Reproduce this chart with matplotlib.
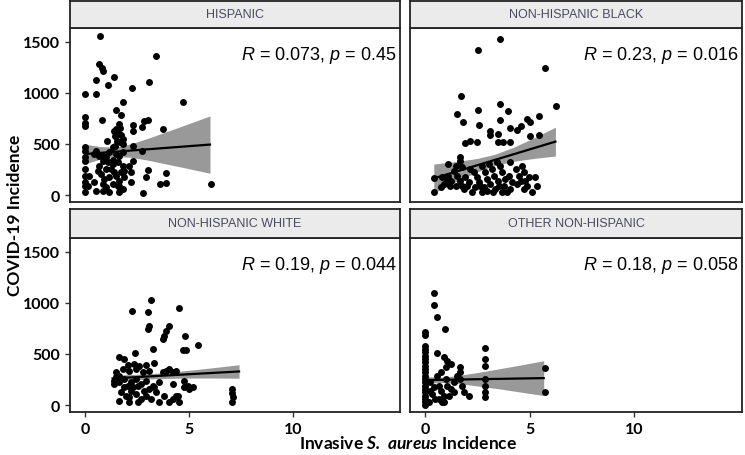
import numpy as np
import matplotlib
matplotlib.use("Agg")
import matplotlib.pyplot as plt

plt.rcParams["mathtext.fontset"] = "custom"
plt.rcParams["mathtext.rm"] = "Liberation Sans"
plt.rcParams["mathtext.it"] = "Liberation Sans:italic"
plt.rcParams["mathtext.bfit"] = "Lato:bold:italic"

# panel titles and correlation labels
groups = ["HISPANIC", "NON-HISPANIC BLACK", "NON-HISPANIC WHITE", "OTHER NON-HISPANIC"]
r_vals = ["0.073", "0.23", "0.19", "0.18"]
p_vals = ["0.45", "0.016", "0.044", "0.058"]

# (S. aureus incidence, COVID-19 incidence)
hispanic = [
    (0.71, 1552), (3.40, 1363), (0.67, 1282), (0.79, 1239), (0.87, 1213), (0.51, 1128),
    (1.40, 1158), (1.11, 1076), (2.23, 1044), (3.08, 1102), (0, 988), (0.51, 988),
    (4.68, 913), (1.80, 907), (1.47, 835), (1.71, 783), (0, 760), (0, 701), (0, 679),
    (0.80, 737), (3.0, 737), (2.84, 721), (2.72, 669), (2.28, 685), (2.28, 630),
    (1.63, 695), (1.68, 653), (1.47, 646), (1.36, 630), (1.55, 607), (1.71, 587),
    (1.43, 574), (3.72, 646), (1.04, 532), (1.52, 532), (1.67, 516), (1.80, 548),
    (1.43, 476), (1.80, 499), (1.31, 467), (0, 467), (0, 434), (0.51, 428), (2.28, 483),
    (0.83, 385), (0.67, 385), (0.43, 401), (0.99, 369), (1.15, 418), (1.47, 401),
    (1.63, 385), (1.80, 418), (1.31, 346), (2.72, 428), (0, 369), (0, 336), (0.83, 336),
    (1.07, 320), (1.31, 304), (1.55, 320), (1.80, 287), (2.12, 287), (0.67, 287),
    (0.99, 255), (1.23, 255), (0, 255), (3.0, 248), (2.92, 173), (3.88, 216), (3.88, 118),
    (3.59, 108), (6.04, 108), (0, 190), (0, 124), (0, 92), (0, 27), (0.51, 43), (0.83, 43),
    (1.15, 27), (1.63, 27), (1.80, 59), (2.76, 20), (0.19, 190), (0.75, 206), (0.91, 157),
    (1.15, 173), (1.47, 190), (1.63, 141), (1.71, 222), (1.88, 239), (2.20, 124),
    (0.83, 108), (1.31, 108), (1.55, 92), (0.43, 124), (0.99, 75), (1.63, 92), (0.59, 239),
    (1.40, 222), (1.88, 173), (0.11, 92), (2.28, 336), (2.20, 222),
]
nh_black = [
    (3.59, 1526), (2.52, 1419), (5.74, 1243), (6.25, 868), (1.71, 965), (3.56, 891),
    (2.52, 835), (3.95, 825), (1.52, 793), (1.80, 718), (2.55, 685), (3.56, 737),
    (4.86, 744), (5.42, 770), (3.11, 630), (4.07, 653), (4.39, 640), (4.55, 679),
    (5.02, 711), (3.08, 587), (3.46, 597), (5.02, 574), (5.42, 587), (1.91, 509),
    (2.12, 532), (2.47, 522), (3.46, 516), (3.72, 516), (4.07, 516), (1.67, 369),
    (1.67, 336), (1.07, 304), (1.44, 287), (1.75, 271),
    (0.40, 164), (0.43, 33), (0.80, 173), (0.88, 108), (1.16, 92), (1.07, 190),
    (1.36, 239), (1.52, 190), (1.64, 141), (1.75, 92), (1.91, 173), (2.07, 124),
    (2.23, 27), (2.31, 222), (2.47, 173), (2.63, 92), (2.71, 27), (2.87, 222),
    (2.95, 157), (3.11, 108), (3.19, 255), (3.27, 190), (3.35, 59), (3.46, 141),
    (3.59, 287), (3.67, 222), (3.75, 92), (3.91, 27), (3.99, 190), (4.07, 320),
    (4.15, 124), (4.31, 255), (4.47, 190), (4.62, 287), (4.70, 222), (4.78, 141),
    (4.86, 92), (5.10, 27), (5.26, 173), (5.34, 92), (2.71, 287), (3.03, 304),
    (3.43, 320), (2.15, 255), (1.20, 141), (1.83, 59), (2.55, 124), (2.95, 43),
    (3.51, 92), (3.83, 157), (4.39, 108), (4.70, 59), (0.72, 75), (1.04, 141),
    (1.44, 92), (1.99, 92), (2.39, 75), (2.79, 75), (3.24, 27), (3.67, 27),
    (4.07, 59), (4.55, 141), (4.94, 173),
]
nh_white = [
    (3.16, 1028), (2.24, 921), (3.03, 911), (4.52, 947), (3.08, 768), (3.0, 742),
    (4.04, 768), (3.88, 726), (3.80, 677), (3.75, 644), (4.81, 677), (5.40, 586),
    (4.68, 540), (4.84, 540), (3.27, 547), (2.39, 508), (1.63, 466), (1.88, 449),
    (2.04, 391), (2.36, 400), (2.60, 384), (2.92, 391), (3.32, 410), (1.47, 319),
    (1.60, 287), (1.80, 352), (2.12, 335), (2.44, 352), (2.76, 319), (3.08, 335),
    (3.88, 335), (4.04, 352), (4.20, 319), (4.36, 335), (3.72, 319), (1.40, 238),
    (1.40, 205), (1.63, 222), (1.88, 254), (2.04, 189), (2.20, 222), (2.44, 254),
    (2.68, 205), (2.92, 238), (3.24, 189), (3.56, 222), (4.20, 205), (4.76, 238),
    (4.76, 173), (4.92, 189), (1.72, 124), (1.96, 92), (2.20, 140), (2.44, 108),
    (2.68, 59), (1.63, 43), (2.12, 33), (2.52, 27), (2.92, 92), (3.16, 59),
    (3.40, 124), (3.56, 27), (4.04, 27), (4.20, 59), (4.44, 92), (4.52, 27),
    (3.08, 157), (2.28, 173), (1.88, 173), (2.84, 140), (2.52, 189), (7.08, 157),
    (7.08, 118), (7.12, 75), (7.08, 27), (1.47, 270), (3.32, 173), (3.80, 92),
    (4.36, 92), (2.12, 75), (5.0, 160), (5.2, 180),
]
other_nh = [
    (0.40, 1093), (0.40, 979), (0.56, 862), (0.92, 742), (0, 709), (0, 683),
    (0, 579), (0, 547), (0, 514), (0, 482), (0, 449), (0, 417), (0, 384), (0, 352),
    (0, 319), (0, 287), (0, 254), (0, 222), (0, 189), (0, 157), (0, 124), (0, 92),
    (0, 59), (0, 27), (0, 5), (0.56, 505), (2.87, 553), (2.87, 449), (2.87, 384),
    (2.87, 254), (2.87, 189), (2.87, 124), (2.87, 75), (0.88, 466), (1.04, 433),
    (1.20, 400), (0.96, 368), (1.67, 368), (1.67, 319), (1.52, 287), (1.67, 254),
    (1.75, 189), (1.83, 124), (2.07, 92), (0.56, 287), (0.24, 222), (0.40, 173),
    (0.64, 189), (0.72, 140), (0.88, 92), (0.80, 27), (0.48, 59), (0.32, 108),
    (1.04, 189), (1.20, 157), (1.12, 92), (1.36, 222), (0.96, 254), (0.72, 319),
    (0.24, 140), (0.16, 27), (0.64, 59), (1.36, 124), (0.88, 27), (5.74, 358),
    (5.74, 131),
]
panels = [hispanic, nh_black, nh_white, other_nh]

# fitted lines (end points) and confidence bands
fit_x = [[0, 6.0], [0.4, 6.22], [1.31, 7.4], [0, 5.66]]
fit_y = [[401, 493], [163, 522], [260, 328], [244, 263]]
band_x = [
    [0, 0.7, 1.4, 2.2, 3.0, 4.5, 6.0],
    [0.4, 1.5, 2.5, 3.3, 4.2, 5.2, 6.22],
    [1.31, 2.2, 3.0, 4.0, 5.2, 6.3, 7.4],
    [0, 0.7, 1.5, 2.5, 3.5, 4.6, 5.66],
]
band_lo = [
    [306, 350, 377, 369, 341, 278, 213],
    [23, 134, 228, 287, 329, 358, 381],
    [226, 242, 254, 261, 264, 264, 262],
    [210, 221, 212, 186, 159, 125, 93],
]
band_hi = [
    [496, 474, 467, 501, 553, 662, 773],
    [303, 328, 358, 397, 465, 560, 663],
    [294, 298, 304, 319, 344, 368, 394],
    [278, 271, 286, 318, 353, 393, 433],
]

x_ticks = [0, 5, 10]
y_ticks = [0, 500, 1000, 1500]

fig = plt.figure(figsize=(7.45, 4.56), dpi=100)
W, H = 745.0, 456.0
lefts = [70, 410, 70, 410]
widths = [330, 332, 330, 332]
ax_tops = [29, 29, 239, 239]
strip_tops = [2, 2, 210, 210]
ax_h = 174

tick_font = dict(family="Lato", weight="bold", size=11.5)

for i, data in enumerate(panels):
    pts = np.array(data, dtype=float)
    ax = fig.add_axes([lefts[i] / W, 1 - (ax_tops[i] + ax_h) / H, widths[i] / W, ax_h / H])

    ax.fill_between(band_x[i], band_lo[i], band_hi[i], color="#999999", lw=0, zorder=1)
    ax.scatter(pts[:, 0], pts[:, 1], s=25, color="black", lw=0, zorder=2)
    ax.plot(fit_x[i], fit_y[i], color="black", lw=1.6, zorder=3)

    ax.set_xlim(-0.74, 15.15)
    ax.set_ylim(-68, 1632)
    ax.set_xticks(x_ticks)
    ax.set_yticks(y_ticks)
    for sp in ax.spines.values():
        sp.set_color("#222222")
        sp.set_linewidth(1.3)
    ax.tick_params(length=3.5, width=1, color="#333333")
    if i in (0, 2):
        ax.set_yticklabels([str(t) for t in y_ticks], fontdict=tick_font)
    else:
        ax.tick_params(axis="y", left=False, labelleft=False)
    if i in (2, 3):
        ax.set_xticklabels([str(t) for t in x_ticks], fontdict=tick_font)
    else:
        ax.tick_params(axis="x", bottom=False, labelbottom=False)

    ax.text(0.99, 0.845, r"$R$ = %s, $p$ = %s" % (r_vals[i], p_vals[i]),
            transform=ax.transAxes, ha="right", va="center",
            family="Liberation Sans", size=13)

    # facet strip
    st = fig.add_axes([lefts[i] / W, 1 - ax_tops[i] / H, widths[i] / W,
                       (ax_tops[i] - strip_tops[i]) / H])
    st.set_facecolor("#ebebeb")
    st.set_xticks([])
    st.set_yticks([])
    for sp in st.spines.values():
        sp.set_color("#222222")
        sp.set_linewidth(1.3)
    st.text(0.5, 0.5, groups[i], ha="center", va="center", family="Liberation Sans",
            size=9, color="#4a4a5e", transform=st.transAxes)

fig.text(15 / W, 1 - 215 / H, "COVID-19 Incidence", rotation=90, ha="center",
         va="center", family="Lato", weight="bold", size=12.5)
fig.text(408 / W, 1 - 444 / H, r"Invasive $\mathbfit{S.\ aureus}$ Incidence",
         ha="center", va="center", family="Lato", weight="bold", size=12.5)

fig.savefig("out.png", dpi=100)
